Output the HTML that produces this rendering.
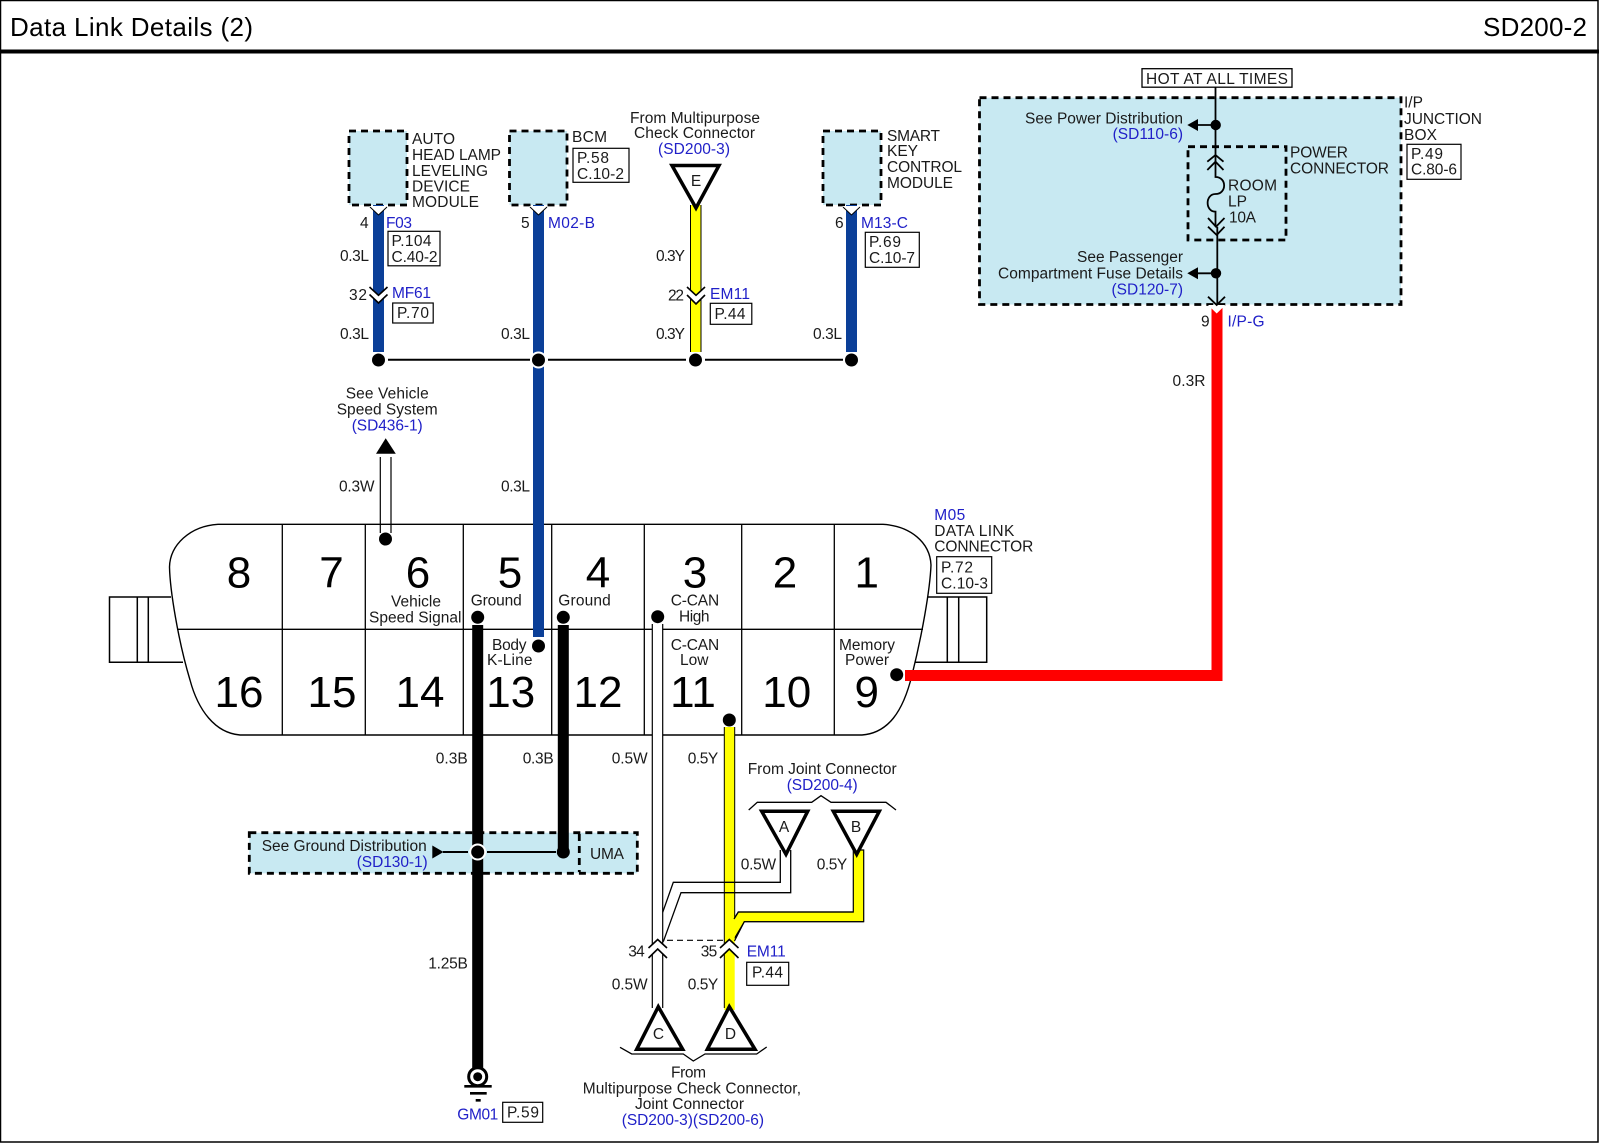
<!DOCTYPE html>
<html><head><meta charset="utf-8"><title>Data Link Details (2)</title>
<style>
html,body{margin:0;padding:0;background:#fff}
svg{display:block}
text{font-family:"Liberation Sans",Arial,sans-serif;font-size:15.5px;fill:#1a1a1a}
.b{fill:#2020c8}
.n{font-size:44px;fill:#000;text-anchor:middle}
.c{text-anchor:middle}
.e{text-anchor:end}
.l{fill:none;stroke:#000;stroke-width:1.5}
.d{fill:#c8e9f2;stroke:#000;stroke-width:2.8;stroke-dasharray:7 5}
.x{fill:#fff;stroke:#000;stroke-width:1.2}
.tri{fill:#fff;stroke:#000;stroke-width:3.5}
.h{fill:#fff}
</style></head><body>
<svg width="1600" height="1143" viewBox="0 0 1600 1143" xmlns="http://www.w3.org/2000/svg">
<rect width="1600" height="1143" fill="#fff"/>
<!-- frame -->
<rect x="0.5" y="0.5" width="1597.5" height="1141.5" fill="none" stroke="#000" stroke-width="1.5"/>
<rect x="0" y="49.5" width="1599" height="4" fill="#000"/>
<text x="10" y="36" style="font-size:26px;fill:#000" textLength="243">Data Link Details (2)</text>
<text x="1483" y="36" style="font-size:26px;fill:#000" textLength="104">SD200-2</text>

<!-- modules -->
<rect class="d" x="349" y="131" width="58" height="74"/>
<rect class="d" x="509.500" y="131" width="57.500" height="74"/>
<rect class="d" x="823" y="131" width="58" height="74"/>
<!-- junction box -->
<rect class="d" x="979.500" y="97.700" width="421.500" height="206.800"/>
<rect x="1142" y="68.700" width="150" height="18.500" fill="#fff" stroke="#000" stroke-width="1.3"/>
<text x="1146" y="84" textLength="142">HOT AT ALL TIMES</text>
<rect class="d" x="1188" y="146.700" width="98" height="93.300" style="fill:none"/>

<!-- connector body -->
<path class="l" d="M171 597H109.500V662.300H183M137.300 597V662.300M148.300 597V662.300"/>
<path class="l" d="M928 597H986.700V662.300H915M947.300 597V662.300M958.700 597V662.300"/>
<path d="M218 524.300H883C910 526 930 542 931 565C930 590 922 635 912 675C903 712 888 733 862 735H240C215 733 198 710 190 680C178 640 170 590 169.500 567C170 545 190 526 218 524.300Z" fill="#fff" stroke="#000" stroke-width="1.4"/>
<path class="l" d="M282.300 524V735M365.300 524V735M463.300 524V735M551.700 524V735M644.300 524V735M741.700 524V735M834.300 524V735M177 629.300H923" style="stroke-width:1.3"/>
<g>
<text class="n" x="239" y="587.500">8</text><text class="n" x="331.500" y="587.500">7</text><text class="n" x="418" y="587.500">6</text><text class="n" x="510" y="587.500">5</text><text class="n" x="598" y="587.500">4</text><text class="n" x="695" y="587.500">3</text><text class="n" x="785" y="587.500">2</text><text class="n" x="866.700" y="587.500">1</text>
<text class="n" x="239" y="707">16</text><text class="n" x="332" y="707">15</text><text class="n" x="420" y="707">14</text><text class="n" x="510.700" y="707">13</text><text class="n" x="598" y="707">12</text><text class="n" x="693" y="707">11</text><text class="n" x="786.700" y="707">10</text><text class="n" x="866.700" y="707">9</text>
</g>
<text x="391" y="606.500" textLength="50">Vehicle</text>
<text x="369" y="622.700" textLength="92.500">Speed Signal</text>
<text x="470.700" y="605.700" textLength="51">Ground</text>
<text x="558.300" y="605.700" textLength="52.500">Ground</text>
<text x="492" y="650" textLength="34.500">Body</text>
<text x="487" y="665" textLength="45.500">K-Line</text>
<text x="670.700" y="605.700" textLength="48.500">C-CAN</text>
<text x="679" y="621.700" textLength="30.500">High</text>
<text x="670.700" y="650" textLength="48.500">C-CAN</text>
<text x="680" y="665" textLength="28.500">Low</text>
<text x="839" y="650" textLength="56">Memory</text>
<text x="845" y="665" textLength="44">Power</text>
<text class="b" x="934.300" y="520" textLength="31">M05</text>
<text x="934.300" y="536" textLength="80">DATA LINK</text>
<text x="934.300" y="551.700" textLength="99">CONNECTOR</text>
<rect class="x" x="936.700" y="556.700" width="55" height="36.600"/>
<text x="941" y="572.700" textLength="32">P.72</text>
<text x="941" y="588.300" textLength="47">C.10-3</text>

<!-- ground band -->
<rect class="d" x="249.300" y="832.700" width="388" height="40.600"/>
<path d="M579.300 834V872" stroke="#000" stroke-width="2.800" stroke-dasharray="7 5" fill="none"/>
<text x="261.700" y="851" textLength="165">See Ground Distribution</text>
<text class="b" x="356.700" y="867" textLength="71">(SD130-1)</text>
<text x="590" y="859" textLength="34">UMA</text>

<!-- wires: blue -->
<rect x="373" y="205" width="11" height="147" fill="#0b3f98"/>
<rect x="533" y="205" width="11" height="432" fill="#0b3f98"/>
<rect x="846" y="205" width="11" height="147" fill="#0b3f98"/>
<!-- yellow E -->
<rect x="690.500" y="205" width="10.500" height="147" fill="#ffff00"/>
<path d="M690.500 205V352M701 205V352" class="l" style="stroke-width:1"/>
<!-- red -->
<path d="M1211.500 305H1222.500V681H905V670H1211.500Z" fill="#ff0000"/>
<!-- black wires -->
<rect x="472.200" y="625" width="11" height="443" fill="#000"/>
<rect x="557.800" y="625" width="11" height="228" fill="#000"/>
<!-- white wires -->
<rect x="652.300" y="624" width="10.400" height="384" fill="#fff"/>
<path class="l" d="M652.300 624V1008M662.700 624V1008" style="stroke-width:1.2"/>
<path class="l" d="M380.300 457V533M391 457V533" style="stroke-width:1.2"/>
<!-- speed arrow -->
<polygon points="385.700,438.300 395.800,453.700 376,453.700" fill="#000"/>
<text x="345.700" y="398.700" textLength="83">See Vehicle</text>
<text x="336.700" y="414.700" textLength="101">Speed System</text>
<text class="b" x="351.700" y="430.700" textLength="71">(SD436-1)</text>
<!-- yellow main + B branch -->
<path d="M853.300 850V912H738.300L730 925V940L734.700 938L744.300 921.700H863.700V850Z" fill="#ffff00" stroke="#000" stroke-width="1.2"/>
<rect x="724.300" y="727" width="10.400" height="283" fill="#ffff00"/>
<path class="l" d="M724.300 727V1008M734.700 727V918" style="stroke-width:1"/>
<path d="M853.300 912H738.300L734 919" fill="none" stroke="#000" stroke-width="1.2"/>
<path d="M863.700 921.700H744.300L734.500 941" fill="none" stroke="#000" stroke-width="1.2"/>
<!-- A white branch -->
<path class="l" d="M780.300 850V882.300H673.300L662.700 912.300" style="stroke-width:1.3"/>
<path class="l" d="M790.700 850V892.700H681L663.300 941.700" style="stroke-width:1.3"/>
<path d="M667 940.300H727" stroke="#000" stroke-width="1.2" stroke-dasharray="6 4" fill="none"/>

<!-- triangles -->
<polygon class="tri" points="672,165.500 719,165.500 696,208"/>
<text class="c" x="696" y="186">E</text>
<polygon class="tri" points="761.700,811.300 807.700,811.300 786,854.300"/>
<polygon class="tri" points="833.300,811.300 879.300,811.300 856.700,854.300"/>
<text class="c" x="784" y="832">A</text><text class="c" x="856" y="832">B</text>
<polygon class="tri" points="658.300,1006.700 682.700,1049.300 636.700,1049.300"/>
<polygon class="tri" points="729.300,1006.700 755,1049.300 707.300,1049.300"/>
<text class="c" x="658.500" y="1039">C</text><text class="c" x="730.500" y="1039">D</text>
<path class="l" d="M620 1047.300L631.700 1054H683.300L693.300 1061L705 1054H756.700L766.700 1047" style="stroke-width:1.3"/>
<path class="l" d="M748.700 810L757.300 802.300H811.700L821 795.700L831 802.300H886L896 810" style="stroke-width:1.3"/>

<!-- chevrons: single under boxes -->
<g stroke="#000" stroke-width="1.5">
<polygon points="369.500,206 387.500,206 378.500,215" fill="#fff" stroke="none"/>
<polygon points="529.500,206 547.500,206 538.500,215" fill="#fff" stroke="none"/>
<polygon points="842.500,206 860.500,206 851.500,215" fill="#fff" stroke="none"/>
<polygon points="1208,305 1225.500,305 1216.700,313.500" fill="#fff" stroke="none"/>
<path d="M370 207L378.500 215L387 207M530 207L538.500 215L547 207M843 207L851.500 215L860 207" fill="none" stroke-width="1"/>
</g>
<!-- chevron pairs -->
<g fill="#fff" stroke="none">
<polygon points="369.500,287 378.500,295.300 387.500,287 387.500,294.500 378.500,303 369.500,294.500"/>
<polygon points="687,287 696,295.300 705,287 705,295 696,304 687,295"/>
<polygon points="648.500,948 657.700,939.500 667,948 667,958 657.700,949 648.500,958"/>
<polygon points="720,948 729.300,939.500 738.500,948 738.500,958 729.300,949 720,958"/>
</g>
<g fill="none" stroke="#000" stroke-width="1.6">
<path d="M369.500 287L378.500 295.300L387.500 287M369.500 294.500L378.500 303L387.500 294.500"/>
<path d="M687 287L696 295.300L705 287M687 295L696 304L705 295"/>
<path d="M648.500 948L657.700 939.500L667 948M648.500 958L657.700 949L667 958"/>
<path d="M720 948L729.300 939.500L738.500 948M720 958L729.300 949L738.500 958"/>
</g>

<!-- horizontal splice -->
<path d="M388 359.700H530M548 359.700H686M705 359.700H843" stroke="#000" stroke-width="2" fill="none"/>
<!-- ground band lines -->
<polygon points="432.300,845.500 443.500,852 432.300,858.500" fill="#000"/>
<path d="M443 852H468M487 852H556" stroke="#000" stroke-width="2" fill="none"/>

<!-- dots -->
<g class="h">
<circle cx="378.500" cy="360" r="8"/><circle cx="538.500" cy="360" r="8.500"/><circle cx="695.500" cy="360" r="8"/><circle cx="851.500" cy="360" r="8"/>
<circle cx="477.700" cy="852" r="8.500"/>
</g>
<g fill="#000">
<circle cx="378.500" cy="360" r="6.500"/><circle cx="538.500" cy="360" r="6.500"/><circle cx="695.500" cy="360" r="6.500"/><circle cx="851.500" cy="360" r="6.500"/>
<circle cx="385.500" cy="539" r="6.500"/><circle cx="477.700" cy="617.300" r="6.500"/><circle cx="563.300" cy="617.300" r="6.500"/><circle cx="538.500" cy="646" r="6.500"/>
<circle cx="657.700" cy="616.700" r="6.500"/><circle cx="729.300" cy="720" r="6.500"/><circle cx="896.700" cy="674.700" r="6.500"/>
<circle cx="477.700" cy="852" r="6.500"/><circle cx="563.300" cy="852" r="6.500"/>
</g>

<!-- ground symbol -->
<circle cx="477.700" cy="1076.700" r="9" fill="#fff" stroke="#000" stroke-width="3"/>
<circle cx="477.700" cy="1076.700" r="4.500" fill="#000"/>
<path d="M464.300 1086.300H491.700M470 1093.300H486.700M475.700 1100.300H480.700" stroke="#000" stroke-width="2.600" fill="none"/>
<text class="b" x="457.300" y="1119.300" textLength="41">GM01</text>
<rect class="x" x="502.700" y="1102.300" width="40" height="20"/>
<text x="507" y="1117.700" textLength="32">P.59</text>

<!-- junction internals -->
<g fill="none" stroke="#000" stroke-width="1.8">
<path d="M1215.500 87V177C1227 177 1227 194 1215.500 194C1205 194 1205 211.700 1215.500 211.700V226.700"/>
<path d="M1217.300 226.700V305"/>
<path d="M1207.300 161.700L1215.500 155L1223.500 161.700M1207.300 170L1215.500 161.700L1223.500 170"/>
<path d="M1208 218L1216 226.700L1224.500 218M1208 226.700L1216.700 235L1224.500 226.700M1208 296.700L1216.700 305L1225 296.700"/>
<path d="M1198 125H1212M1198 273.300H1213"/>
</g>
<circle cx="1215.700" cy="125" r="5.200" fill="#000"/><circle cx="1216" cy="273.300" r="5.200" fill="#000"/>
<polygon points="1187.300,125 1198,119 1198,131" fill="#000"/><polygon points="1187.300,273.300 1198,267.300 1198,279.300" fill="#000"/>
<text class="e" x="1183" y="123.300" textLength="158">See Power Distribution</text>
<text class="e b" x="1183" y="139">(SD110-6)</text>
<text class="e" x="1183" y="262">See Passenger</text>
<text x="998" y="278.300" textLength="185">Compartment Fuse Details</text>
<text class="e b" x="1183" y="294.300">(SD120-7)</text>
<text x="1228" y="190.700" textLength="49">ROOM</text><text x="1228" y="206.700">LP</text><text x="1229" y="222.700" textLength="27">10A</text>
<text x="1290" y="157.300" textLength="58">POWER</text><text x="1290" y="173.300" textLength="99">CONNECTOR</text>
<text x="1404" y="107.300">I/P</text><text x="1404" y="124" textLength="78">JUNCTION</text><text x="1404" y="140" textLength="33">BOX</text>
<rect class="x" x="1407" y="144.300" width="54" height="35"/>
<text x="1411" y="159" textLength="32">P.49</text><text x="1411" y="174.700" textLength="46">C.80-6</text>
<text x="1201" y="326.700">9</text><text class="b" x="1227.500" y="326.700" textLength="37">I/P-G</text>
<text x="1172.500" y="386" textLength="33">0.3R</text>

<!-- module labels -->
<text x="412" y="144" textLength="43">AUTO</text><text x="412" y="160" textLength="89">HEAD LAMP</text><text x="412" y="176" textLength="76">LEVELING</text><text x="412" y="191.700" textLength="58">DEVICE</text><text x="412" y="207" textLength="67">MODULE</text>
<text x="360" y="228">4</text><text class="b" x="386" y="228" textLength="26">F03</text>
<rect class="x" x="388" y="231.300" width="52" height="34.500"/>
<text x="391.500" y="246" textLength="40">P.104</text><text x="391.500" y="262" textLength="46">C.40-2</text>
<text x="340" y="261" textLength="29">0.3L</text><text x="340" y="339" textLength="29">0.3L</text>
<text x="349" y="300" textLength="18">32</text><text class="b" x="392" y="298" textLength="39">MF61</text>
<rect class="x" x="392.700" y="303" width="40.500" height="20"/><text x="397" y="318" textLength="32">P.70</text>
<text x="572" y="142" textLength="35">BCM</text>
<rect class="x" x="573" y="148.300" width="56" height="34"/>
<text x="577" y="163" textLength="32">P.58</text><text x="577" y="179" textLength="47">C.10-2</text>
<text x="521" y="228">5</text><text class="b" x="548" y="228" textLength="47">M02-B</text>
<text x="501" y="339" textLength="29">0.3L</text><text x="501" y="491.700" textLength="29">0.3L</text>
<text x="630" y="123" textLength="130">From Multipurpose</text><text x="634" y="138" textLength="121">Check Connector</text>
<text class="b" x="658" y="154" textLength="72">(SD200-3)</text>
<text x="656" y="261" textLength="29">0.3Y</text><text x="656" y="339" textLength="29">0.3Y</text>
<text x="668" y="300.700" textLength="16">22</text><text class="b" x="710" y="299" textLength="40">EM11</text>
<rect class="x" x="710.300" y="303.300" width="41.500" height="21"/><text x="714.500" y="319" textLength="31">P.44</text>
<text x="887" y="141" textLength="53">SMART</text><text x="887" y="156" textLength="31">KEY</text><text x="887" y="172" textLength="75">CONTROL</text><text x="887" y="188" textLength="66">MODULE</text>
<text x="835" y="228">6</text><text class="b" x="861" y="228" textLength="47">M13-C</text>
<rect class="x" x="865.300" y="232.300" width="54" height="35"/>
<text x="869" y="247" textLength="32">P.69</text><text x="869" y="263" textLength="46">C.10-7</text>
<text x="813" y="339" textLength="29">0.3L</text>

<!-- bottom labels -->
<text x="339" y="491.700" textLength="35.500">0.3W</text>
<text x="435.700" y="763.300" textLength="32">0.3B</text><text x="522.700" y="763.300" textLength="31">0.3B</text>
<text x="611.700" y="763.300" textLength="36">0.5W</text><text x="687.700" y="763.300" textLength="30.500">0.5Y</text>
<text x="428.300" y="968.300" textLength="39.500">1.25B</text>
<text x="747.700" y="774" textLength="149">From Joint Connector</text>
<text class="b" x="786.700" y="790" textLength="71">(SD200-4)</text>
<text x="740.700" y="869.300" textLength="35.500">0.5W</text><text x="816.700" y="869.300" textLength="30.500">0.5Y</text>
<text x="628.300" y="956.700" textLength="16.500">34</text><text x="700.700" y="956.700" textLength="16.500">35</text>
<text class="b" x="746.700" y="956.700" textLength="39">EM11</text>
<rect class="x" x="746.700" y="962.300" width="42" height="23"/><text x="752" y="977.700" textLength="31">P.44</text>
<text x="611.700" y="989.300" textLength="36">0.5W</text><text x="687.700" y="989.300" textLength="30.500">0.5Y</text>
<text x="671" y="1077.300" textLength="35">From</text>
<text x="582.700" y="1093.300" textLength="218.300">Multipurpose Check Connector,</text>
<text x="635" y="1109" textLength="109">Joint Connector</text>
<text class="b" x="621.700" y="1125" textLength="142.300">(SD200-3)(SD200-6)</text>
</svg>
</body></html>
